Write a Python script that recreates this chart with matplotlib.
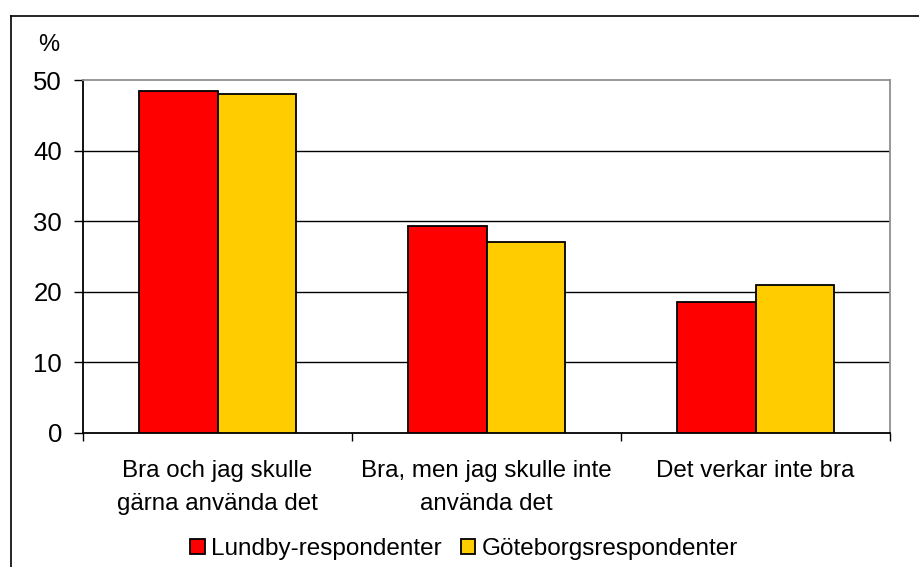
import numpy as np
import matplotlib.pyplot as plt
from matplotlib.lines import Line2D

# Data
categories = ["Bra och jag skulle\ngärna använda det",
              "Bra, men jag skulle inte\nanvända det",
              "Det verkar inte bra"]
lundby = [48.5, 29.3, 18.5]
goteborg = [48.0, 27.0, 21.0]
series_names = ["Lundby-respondenter", "Göteborgsrespondenter"]
yticks = [0, 10, 20, 30, 40, 50]

plt.rcParams['font.family'] = ['Liberation Sans', 'DejaVu Sans']

fig = plt.figure(figsize=(9.19, 5.67), dpi=100)
ax = fig.add_axes([83 / 919, 1 - 433 / 567, (890 - 83) / 919, (433 - 80) / 567])

x = np.arange(len(categories))
w = 0.29
ax.bar(x - w / 2, lundby, w, color='#FF0000', edgecolor='black', linewidth=1.3,
       label=series_names[0], zorder=3)
ax.bar(x + w / 2, goteborg, w, color='#FFCC00', edgecolor='black', linewidth=1.3,
       label=series_names[1], zorder=3)

ax.set_xlim(-0.5, len(categories) - 0.5)
ax.set_ylim(0, 50)
ax.set_yticks(yticks)
ax.tick_params(axis='y', labelsize=18.5, length=6.5, width=1, pad=8.5, direction='out')

# category labels centred, ticks at the boundaries
ax.set_xticks(x)
ax.set_xticklabels(categories, fontsize=17.4, linespacing=1.62)
ax.tick_params(axis='x', which='major', length=0, pad=19.5)
ax.set_xticks(np.arange(-0.5, len(categories)), minor=True)
ax.tick_params(axis='x', which='minor', length=6, width=1, direction='out')

for yv in yticks[1:-1]:
    ax.axhline(yv, color='black', linewidth=1, zorder=1)

ax.spines['left'].set_color('black')
ax.spines['bottom'].set_color('black')
ax.spines['top'].set_color('#909090')
ax.spines['right'].set_color('#909090')
for s in ax.spines.values():
    s.set_linewidth(1.3)

fig.text(49 / 919, 1 - 45 / 567, "%", fontsize=17, ha='center', va='center')

fig.legend(loc='center', bbox_to_anchor=(464 / 919, 1 - 549 / 567), ncol=2,
           frameon=False, fontsize=17.5, handlelength=0.6, handleheight=0.6,
           handletextpad=0.25, columnspacing=0.8)

# outer chart border (only top and left visible)
fig.add_artist(Line2D([10.5 / 919, 1.0], [1 - 16 / 567] * 2, color='black',
                      linewidth=1.2, transform=fig.transFigure))
fig.add_artist(Line2D([10.5 / 919] * 2, [0, 1 - 16 / 567], color='black',
                      linewidth=1.2, transform=fig.transFigure))

fig.savefig("out.png", dpi=100)
